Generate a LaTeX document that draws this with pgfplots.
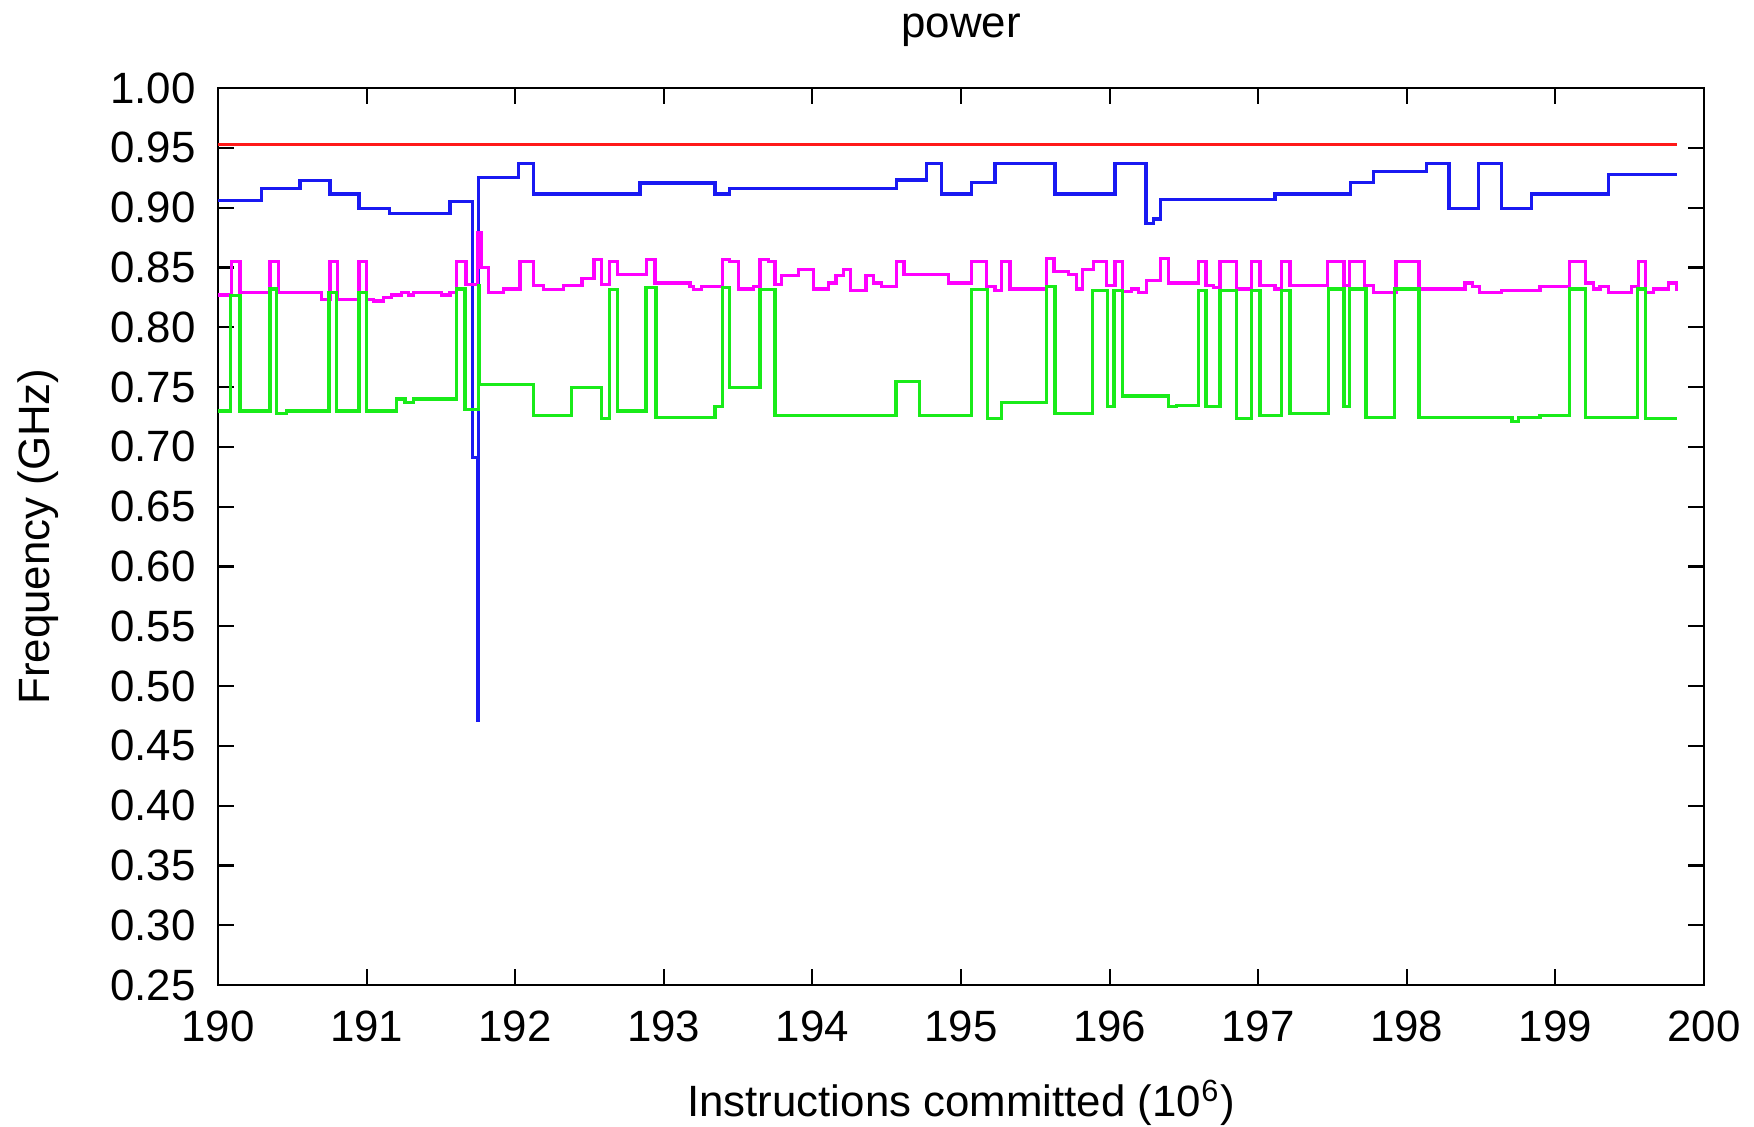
\documentclass[border=0pt]{standalone}
\usepackage{fontspec}
\setmainfont{Liberation Sans}
\usepackage{pgfplots}
\pgfplotsset{compat=1.18}
\definecolor{cred}{rgb}{1,0.1,0.1}
\definecolor{cblue}{rgb}{0.1,0.1,0.95}
\definecolor{cmag}{rgb}{1,0,1}
\definecolor{cgreen}{rgb}{0.1,0.92,0.1}
\begin{document}
\begin{tikzpicture}
\begin{axis}[
  at={(0,0)}, anchor=south west,
  scale only axis, width=423.6pt, height=255.7pt,
  xmin=190, xmax=200, ymin=0.25, ymax=1.00,
  xtick={190,191,192,193,194,195,196,197,198,199,200},
  ytick={0.25,0.30,0.35,0.40,0.45,0.50,0.55,0.60,0.65,0.70,0.75,0.80,0.85,0.90,0.95,1.00},
  scaled ticks=false,
  tick align=inside, major tick length=4.5pt,
  tick style={black, line width=0.6pt},
  axis line style={black, line width=0.8pt},
  font=\fontsize{12.5}{15}\selectfont,
  /pgf/number format/assume math mode=true,
  xticklabel style={yshift=-3.8pt, /pgf/number format/fixed, /pgf/number format/1000 sep={}},
  yticklabel style={xshift=-2.9pt, /pgf/number format/fixed, /pgf/number format/fixed zerofill, /pgf/number format/precision=2},
  xlabel={Instructions committed (10\textsuperscript{6})},
  xlabel style={at={(axis description cs:0.5,-0.1467)}, anchor=base, font=\fontsize{12.5}{15}\selectfont},
  ylabel={Frequency (GHz)},
  ylabel style={at={(axis description cs:-0.1131,0.5)}, anchor=base, font=\fontsize{12.5}{15}\selectfont},
  every axis plot/.append style={line width=0.9pt, const plot mark left, no markers},
]
% red
\addplot[cred] coordinates {(190,0.953) (199.816,0.953)};
% blue
\addplot[cblue] coordinates {
(190.000,0.906) (190.294,0.916) (190.552,0.923) (190.754,0.9115) (190.949,0.899)
(191.157,0.895) (191.561,0.905) (191.711,0.691) (191.747,0.471) (191.752,0.925)
(192.021,0.937) (192.122,0.9115) (192.840,0.9207) (193.345,0.9115) (193.445,0.9157)
(194.567,0.9232) (194.769,0.937) (194.870,0.9115) (195.072,0.921) (195.229,0.937)
(195.633,0.9115) (196.036,0.937) (196.245,0.887) (196.295,0.8905) (196.344,0.9067)
(197.113,0.9115) (197.622,0.921) (197.775,0.930) (198.134,0.937) (198.284,0.8994)
(198.481,0.937) (198.638,0.8994) (198.840,0.9115) (199.356,0.9274) (199.816,0.9274)
};
% magenta
\addplot[cmag] coordinates {
(190.000,0.827) (190.092,0.855) (190.148,0.829) (190.350,0.855) (190.406,0.829)
(190.698,0.8235) (190.754,0.855) (190.805,0.8235) (190.949,0.855) (191.000,0.8235)
(191.045,0.822) (191.112,0.825) (191.169,0.827) (191.236,0.829) (191.281,0.827)
(191.315,0.829) (191.505,0.827) (191.561,0.829) (191.606,0.855) (191.669,0.836)
(191.748,0.879) (191.770,0.850) (191.820,0.829) (191.920,0.832) (192.032,0.855)
(192.125,0.8346) (192.190,0.8318) (192.325,0.8346) (192.450,0.841) (192.530,0.857)
(192.582,0.836) (192.633,0.855) (192.687,0.844) (192.885,0.857) (192.941,0.837)
(193.176,0.834) (193.200,0.8313) (193.255,0.834) (193.396,0.857) (193.445,0.855)
(193.501,0.832) (193.602,0.834) (193.647,0.857) (193.703,0.855) (193.748,0.836)
(193.793,0.843) (193.905,0.848) (194.006,0.832) (194.107,0.837) (194.159,0.843)
(194.208,0.848) (194.258,0.831) (194.361,0.843) (194.410,0.837) (194.466,0.834)
(194.567,0.855) (194.617,0.844) (194.915,0.837) (195.072,0.855) (195.173,0.834)
(195.229,0.831) (195.274,0.855) (195.330,0.832) (195.577,0.8575) (195.626,0.8467)
(195.722,0.8444) (195.779,0.832) (195.816,0.848) (195.890,0.855) (195.980,0.8346)
(196.036,0.855) (196.088,0.830) (196.148,0.832) (196.193,0.829) (196.249,0.839)
(196.344,0.8578) (196.395,0.837) (196.597,0.855) (196.649,0.8346) (196.698,0.8333)
(196.743,0.855) (196.855,0.832) (196.956,0.855) (197.012,0.8346) (197.113,0.832)
(197.158,0.855) (197.214,0.8346) (197.467,0.855) (197.577,0.8346) (197.617,0.855)
(197.718,0.8346) (197.775,0.829) (197.927,0.855) (198.082,0.832) (198.392,0.837)
(198.440,0.834) (198.488,0.829) (198.638,0.831) (198.896,0.834) (199.093,0.855)
(199.205,0.837) (199.255,0.832) (199.300,0.834) (199.356,0.829) (199.513,0.834)
(199.558,0.855) (199.609,0.829) (199.659,0.832) (199.760,0.837) (199.816,0.830)
};
% green
\addplot[cgreen] coordinates {
(190.000,0.730) (190.085,0.8263) (190.148,0.730) (190.350,0.832) (190.395,0.728)
(190.462,0.730) (190.747,0.829) (190.799,0.730) (190.949,0.829) (191.000,0.730)
(191.202,0.740) (191.258,0.7374) (191.315,0.740) (191.606,0.832) (191.662,0.731)
(191.752,0.835) (191.762,0.752) (192.122,0.7265) (192.379,0.7494) (192.582,0.7234)
(192.633,0.8313) (192.687,0.730) (192.880,0.8333) (192.948,0.7243) (193.345,0.7335)
(193.396,0.8333) (193.445,0.7494) (193.647,0.8313) (193.748,0.7263) (194.563,0.7545)
(194.720,0.7263) (195.072,0.8313) (195.177,0.7234) (195.274,0.7374) (195.577,0.834)
(195.633,0.728) (195.886,0.831) (195.986,0.7335) (196.030,0.831) (196.088,0.7425)
(196.395,0.7335) (196.451,0.7346) (196.597,0.831) (196.649,0.7335) (196.743,0.831)
(196.855,0.7234) (196.956,0.831) (197.012,0.7263) (197.158,0.831) (197.214,0.728)
(197.472,0.832) (197.577,0.7335) (197.617,0.832) (197.725,0.7243) (197.920,0.832)
(198.082,0.7243) (198.708,0.7215) (198.753,0.7243) (198.896,0.7263) (199.093,0.832)
(199.205,0.7243) (199.552,0.832) (199.604,0.7234) (199.816,0.7234)
};
\end{axis}
\node[anchor=base, font=\fontsize{12.5}{15}\selectfont] at (211.8pt,270pt) {power};
\pgfresetboundingbox
\path (-62.14pt,-40.19pt) rectangle (437.86pt,280.81pt);
\end{tikzpicture}
\end{document}
